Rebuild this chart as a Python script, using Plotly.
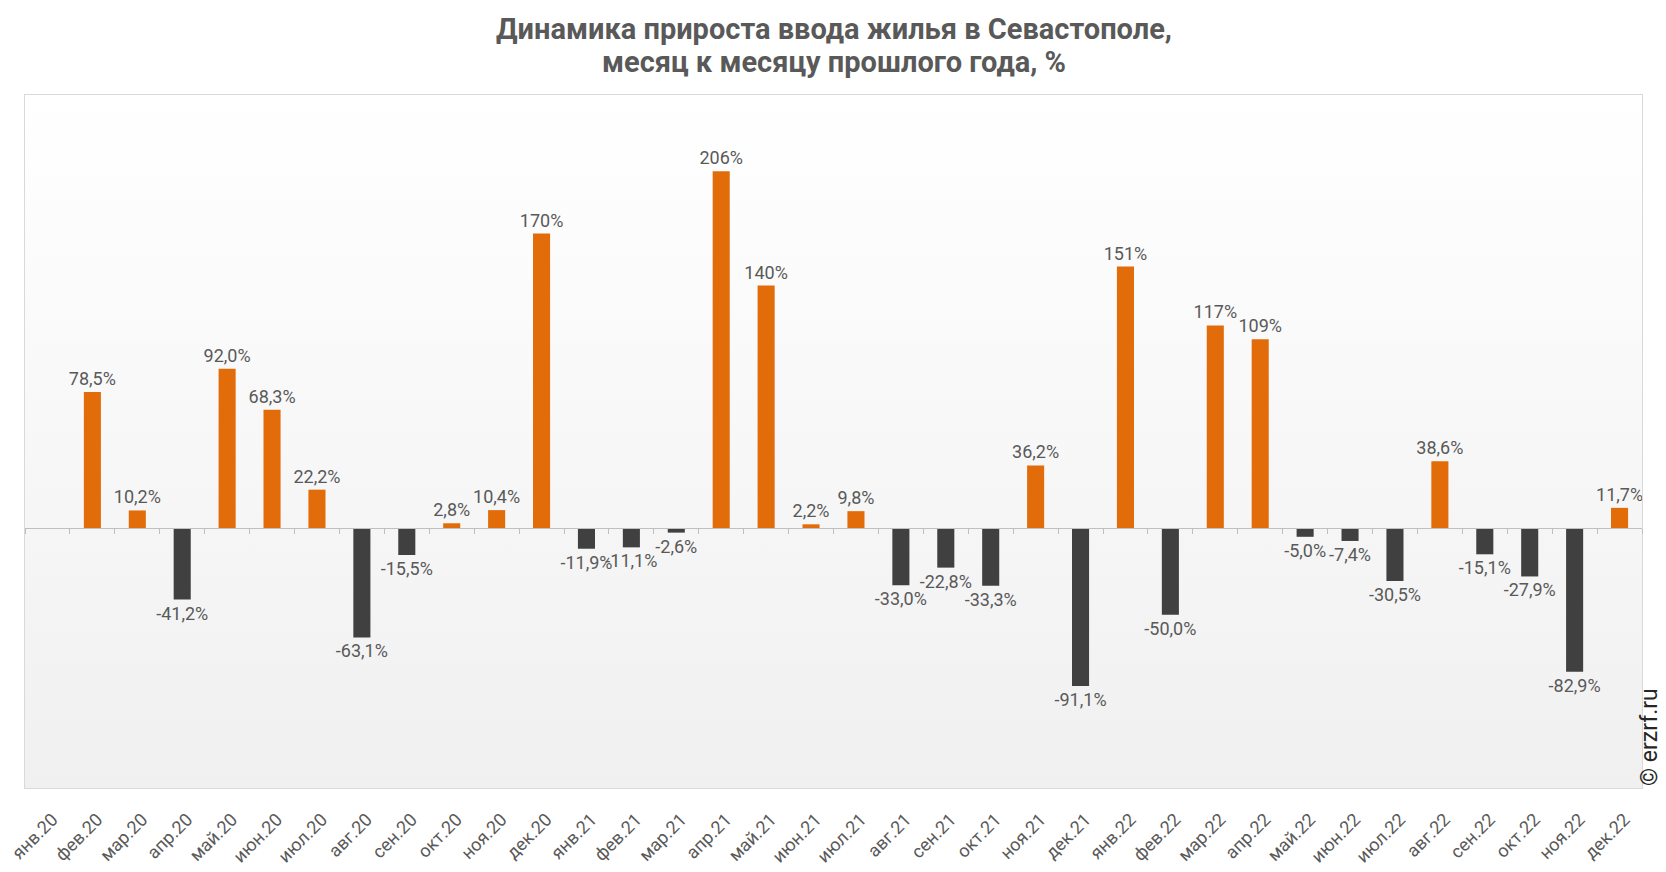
import base64
import plotly.graph_objects as go

categories = ["янв.20", "фев.20", "мар.20", "апр.20", "май.20", "июн.20", "июл.20", "авг.20",
              "сен.20", "окт.20", "ноя.20", "дек.20", "янв.21", "фев.21", "мар.21", "апр.21",
              "май.21", "июн.21", "июл.21", "авг.21", "сен.21", "окт.21", "ноя.21", "дек.21",
              "янв.22", "фев.22", "мар.22", "апр.22", "май.22", "июн.22", "июл.22", "авг.22",
              "сен.22", "окт.22", "ноя.22", "дек.22"]
values = [None, 78.5, 10.2, -41.2, 92.0, 68.3, 22.2, -63.1,
          -15.5, 2.8, 10.4, 170, -11.9, -11.1, -2.6, 206,
          140, 2.2, 9.8, -33.0, -22.8, -33.3, 36.2, -91.1,
          151, -50.0, 117, 109, -5.0, -7.4, -30.5, 38.6,
          -15.1, -27.9, -82.9, 11.7]
title_lines = ["Динамика прироста ввода жилья в Севастополе,", "месяц к месяцу прошлого года, %"]

ORANGE = "#E36C0A"
DARK = "#404040"
TXT = "#595959"


def fmt(v):
    if v is None:
        return ""
    if abs(v) >= 100:
        return f"{v:.0f}%"
    return f"{v:.1f}%".replace(".", ",")


texts = [fmt(v) for v in values]
colors = [ORANGE if (v is not None and v >= 0) else DARK for v in values]

fig = go.Figure()
fig.add_trace(go.Bar(
    x=categories, y=values, text=texts, textposition="outside", constraintext="none",
    marker=dict(color=colors, line=dict(width=0)),
    textfont=dict(family="Roboto", size=18, color=TXT),
    cliponaxis=False, width=0.38, hoverinfo="x+y",
))
# helper trace for the zero-line axis with tick marks
fig.add_trace(go.Scatter(x=categories, y=[0] * len(categories), xaxis="x2", mode="lines",
                         line=dict(width=0), hoverinfo="skip", showlegend=False))

svg = ('<svg xmlns="http://www.w3.org/2000/svg" width="100" height="100" preserveAspectRatio="none">'
       '<defs><linearGradient id="g" x1="0" y1="0" x2="0" y2="1">'
       '<stop offset="0" stop-color="#ffffff"/><stop offset="1" stop-color="#f0f0f0"/>'
       '</linearGradient></defs><rect width="100" height="100" fill="url(#g)"/></svg>')
src = "data:image/svg+xml;base64," + base64.b64encode(svg.encode()).decode()

W, H = 1658, 864
ML, MR, MT, MB = 17, 24, 87, 84
plot_h = H - MT - MB


def py(fig_y):
    return (H - MB - fig_y) / plot_h


annotations = [
    dict(text="<b>%s</b>" % title_lines[0], xref="paper", yref="paper", x=0.5, y=py(21),
         xanchor="center", yanchor="middle", showarrow=False,
         font=dict(family="Roboto", size=29, color=TXT)),
    dict(text="<b>%s</b>" % title_lines[1], xref="paper", yref="paper", x=0.5, y=py(54),
         xanchor="center", yanchor="middle", showarrow=False,
         font=dict(family="Roboto", size=29, color=TXT)),
    dict(text="© erzrf.ru", textangle=-90, xref="paper", yref="paper",
         x=1, xshift=7, y=0, xanchor="center", yanchor="bottom", showarrow=False,
         font=dict(family="Roboto", size=23, color="#262626")),
]

fig.update_layout(
    width=W, height=H,
    margin=dict(l=ML, r=MR, t=MT, b=MB, autoexpand=False),
    paper_bgcolor="white", plot_bgcolor="rgba(0,0,0,0)",
    showlegend=False,
    xaxis=dict(type="category", tickangle=-45, tickfont=dict(family="Roboto", size=18, color=TXT),
               showline=True, mirror=True, linecolor="#d9d9d9", linewidth=1, ticks="",
               ticklabelstandoff=13, ticklabelshift=5,
               showgrid=False, zeroline=False, automargin=False),
    xaxis2=dict(type="category", overlaying="x", matches="x", anchor="free", position=0.375,
                showline=True, linecolor="#bfbfbf", linewidth=1, ticks="outside",
                tickson="boundaries", ticklen=5, tickcolor="#bfbfbf",
                showticklabels=False, showgrid=False, automargin=False),
    yaxis=dict(range=[-150, 250], showticklabels=False, showgrid=False, zeroline=False,
               showline=True, mirror=True, linecolor="#d9d9d9", linewidth=1, automargin=False),
    images=[dict(source=src, xref="paper", yref="paper", x=0, y=1, sizex=1, sizey=1,
                 sizing="stretch", layer="below", xanchor="left", yanchor="top")],
    annotations=annotations,
)

fig.write_html("out.html")
